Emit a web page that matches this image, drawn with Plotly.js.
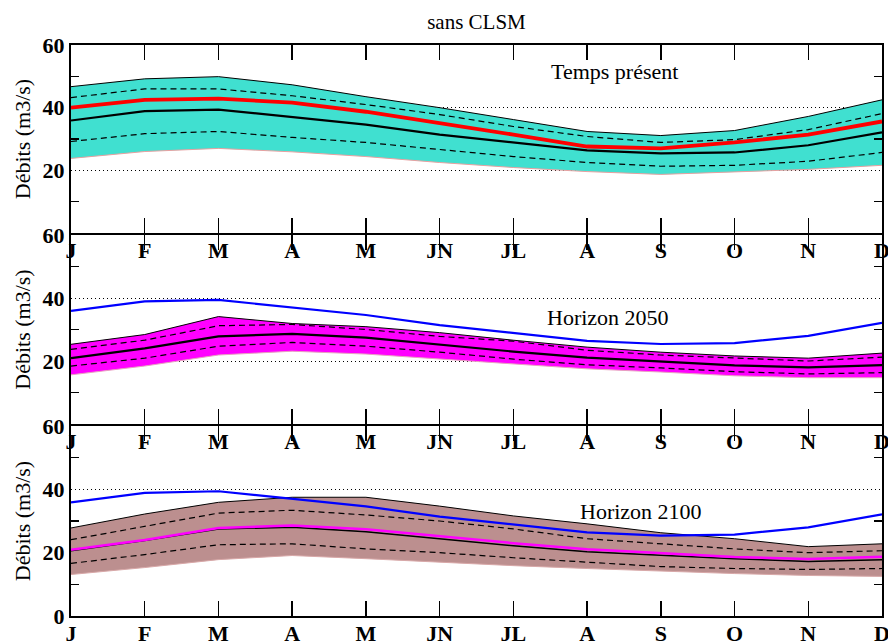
<!DOCTYPE html>
<html>
<head>
<meta charset="utf-8">
<script src="https://cdn.plot.ly/plotly-3.0.1.min.js"></script>
<style>
  html, body { margin: 0; padding: 0; background: #fff; }
  #chart { width: 888px; height: 642px; }
</style>
</head>
<body>
<div id="chart"></div>
<script>
// Monthly discharge regime (m3/s), ensemble envelopes per period
const months = ['J', 'F', 'M', 'A', 'M', 'JN', 'JL', 'A', 'S', 'O', 'N', 'D'];
const monthIdx = months.map((_, i) => i);

// Present day
const presentMax = [46.7, 49.2, 49.9, 47.3, 43.5, 40.0, 36.2, 32.4, 31.1, 32.7, 37.2, 42.5];
const presentQ75 = [43.2, 46.0, 46.0, 43.8, 41.0, 37.8, 34.0, 30.8, 28.9, 29.8, 33.0, 38.1];
const presentMedian = [35.9, 38.9, 39.4, 37.0, 34.6, 31.4, 28.9, 26.4, 25.4, 25.7, 28.0, 32.1];
const presentQ25 = [29.2, 31.7, 32.4, 30.5, 28.9, 26.7, 24.4, 22.5, 21.3, 21.6, 22.9, 25.7];
const presentMin = [23.8, 26.0, 27.0, 25.9, 24.4, 22.5, 20.9, 19.6, 18.7, 19.4, 20.3, 21.6];
const observed = [40.0, 42.5, 42.9, 41.6, 38.7, 35.2, 31.4, 27.6, 27.0, 28.9, 31.4, 35.6];

// Horizon 2050
const h2050Max = [25.3, 28.4, 34.1, 31.9, 30.9, 29.0, 26.6, 24.4, 22.8, 21.6, 20.9, 22.5];
const h2050Q75 = [23.7, 26.6, 31.2, 31.6, 30.0, 27.8, 26.3, 23.4, 21.9, 20.9, 20.0, 21.2];
const h2050Median = [20.9, 24.0, 27.8, 28.6, 27.4, 25.2, 23.0, 21.1, 19.8, 18.6, 18.0, 18.7];
const h2050Q25 = [18.4, 20.9, 24.7, 25.9, 24.7, 22.8, 20.6, 18.8, 17.8, 16.6, 15.9, 16.3];
const h2050Min = [15.6, 18.4, 21.9, 23.1, 22.2, 20.6, 19.0, 17.5, 16.5, 15.3, 14.7, 14.7];

// Horizon 2100
const h2100Max = [27.8, 32.2, 35.9, 37.5, 37.5, 34.7, 31.6, 29.1, 26.3, 24.4, 21.9, 22.8];
const h2100Q75 = [24.1, 28.4, 32.5, 33.4, 31.9, 30.0, 27.5, 24.4, 22.8, 21.2, 20.0, 20.6];
const h2100Median = [20.6, 23.8, 27.5, 28.0, 26.6, 24.4, 22.2, 20.3, 19.1, 18.1, 17.2, 17.8];
const h2100Q25 = [16.6, 19.4, 22.5, 22.8, 21.2, 20.0, 18.4, 16.9, 15.6, 15.0, 14.7, 15.0];
const h2100Min = [13.1, 15.3, 17.8, 19.1, 18.1, 16.9, 15.9, 15.0, 14.1, 13.4, 12.8, 12.5];

const SERIF = 'Liberation Serif';
const DASH = '6px,4px';

function line(xa, ya, data, color, width, dash) {
  return {
    x: monthIdx, y: data, xaxis: xa, yaxis: ya, type: 'scatter', mode: 'lines',
    line: { color: color, width: width, dash: dash || 'solid' },
    hoverinfo: 'skip', showlegend: false
  };
}

function band(xa, ya, lo, hi, fillColor, edgeColor) {
  return [
    { x: monthIdx, y: lo, xaxis: xa, yaxis: ya, type: 'scatter', mode: 'lines',
      line: { color: edgeColor, width: 1 }, hoverinfo: 'skip', showlegend: false },
    { x: monthIdx, y: hi, xaxis: xa, yaxis: ya, type: 'scatter', mode: 'lines',
      fill: 'tonexty', fillcolor: fillColor,
      line: { color: '#000', width: 1 }, hoverinfo: 'skip', showlegend: false }
  ];
}

const traces = [
  // top panel: present day
  ...band('x', 'y', presentMin, presentMax, '#40E0D0', '#e8a0a0'),
  line('x', 'y', presentQ75, '#000', 1.2, DASH),
  line('x', 'y', presentQ25, '#000', 1.2, DASH),
  line('x', 'y', presentMedian, '#000', 2.2),
  line('x', 'y', observed, '#ff0000', 3.8),

  // middle panel: horizon 2050
  ...band('x2', 'y2', h2050Min, h2050Max, '#ff00ff', '#e8a0c0'),
  line('x2', 'y2', h2050Q75, '#000', 1.2, DASH),
  line('x2', 'y2', h2050Q25, '#000', 1.2, DASH),
  line('x2', 'y2', h2050Median, '#000', 2.2),
  line('x2', 'y2', presentMedian, '#0000ff', 2.2),

  // bottom panel: horizon 2100
  ...band('x3', 'y3', h2100Min, h2100Max, '#bc8f8f', '#d8a8a8'),
  line('x3', 'y3', h2100Q75, '#000', 1.2, DASH),
  line('x3', 'y3', h2100Q25, '#000', 1.2, DASH),
  line('x3', 'y3', h2100Median, '#000', 1.5),
  line('x3', 'y3', h2050Median, '#ff00ff', 2.5),
  line('x3', 'y3', presentMedian, '#0000ff', 2.2)
];

function xAxis(anchor) {
  return {
    anchor: anchor, range: [0, 11], tickmode: 'array',
    tickvals: monthIdx, ticktext: months,
    ticks: 'inside', ticklen: 15, tickwidth: 1.5, tickcolor: '#000',
    showline: true, linecolor: '#000', linewidth: 2, mirror: 'allticks',
    showgrid: false, zeroline: false,
    ticklabeloverflow: 'allow', ticklabelstandoff: -3,
    tickfont: { family: SERIF, size: 22, color: '#000', weight: 'bold' }
  };
}

function yAxis(domain, anchor, vals) {
  return {
    domain: domain, anchor: anchor, range: [0, 60], tickmode: 'array',
    tickvals: vals, ticks: '', showline: true, linecolor: '#000', linewidth: 2,
    mirror: 'allticks', zeroline: false,
    showgrid: true, gridcolor: '#000', gridwidth: 1, griddash: '1px,3px',
    minor: { tickmode: 'array', tickvals: [10, 30, 50], ticks: 'inside',
             ticklen: 8, tickwidth: 1.5, tickcolor: '#000', showgrid: false },
    tickfont: { family: SERIF, size: 22, color: '#000', weight: 'bold' },
    title: { text: 'Débits (m3/s)', standoff: 6,
             font: { family: SERIF, size: 22, color: '#000' } }
  };
}

// panel edges on whole pixels, spaced so that the shared frame lines overlap
const PLOT_H = 642 - 45 - 26;
const domTop = [383 / PLOT_H, 1];
const domMid = [192 / PLOT_H, 381 / PLOT_H];
const domBot = [0, 190 / PLOT_H];

const layout = {
  width: 888, height: 642,
  margin: { l: 71, r: 6, t: 45, b: 26 },
  paper_bgcolor: '#fff', plot_bgcolor: '#fff',
  font: { family: SERIF, color: '#000' },
  showlegend: false,
  title: { text: 'sans CLSM', x: 0.5, xref: 'paper', y: 0.966, yref: 'container',
           yanchor: 'middle', font: { family: SERIF, size: 21, color: '#000' } },
  xaxis: xAxis('y'),
  xaxis2: xAxis('y2'),
  xaxis3: xAxis('y3'),
  yaxis: yAxis(domTop, 'x', [20, 40, 60]),
  yaxis2: yAxis(domMid, 'x2', [20, 40, 60]),
  yaxis3: yAxis(domBot, 'x3', [0, 20, 40, 60]),
  annotations: [
    { text: 'Temps présent', x: 7.37, y: 51.4, xref: 'x', yref: 'y', showarrow: false,
      font: { family: SERIF, size: 22, color: '#000' } },
    { text: 'Horizon 2050', x: 7.29, y: 33.7, xref: 'x2', yref: 'y2', showarrow: false,
      font: { family: SERIF, size: 22, color: '#000' } },
    { text: 'Horizon 2100', x: 7.73, y: 33.1, xref: 'x3', yref: 'y3', showarrow: false,
      font: { family: SERIF, size: 22, color: '#000' } }
  ]
};

Plotly.newPlot('chart', traces, layout, { staticPlot: true, displayModeBar: false });
</script>
</body>
</html>
